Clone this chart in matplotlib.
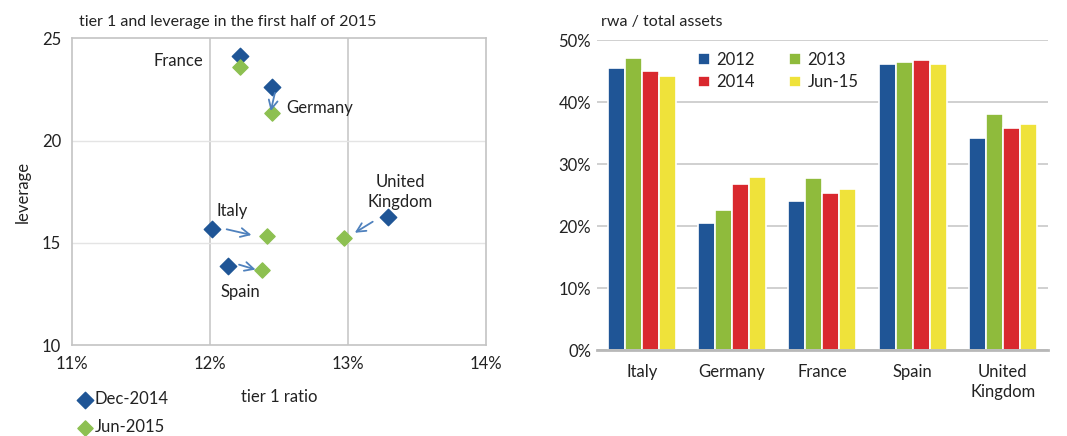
import matplotlib.pyplot as plt
from matplotlib.ticker import FuncFormatter
import numpy as np

plt.rcParams["font.family"] = ["Lato", "DejaVu Sans"]

# ---------------------------------------------------------
# Left panel: tier 1 ratio (%) vs leverage
# ---------------------------------------------------------
countries_sc = ["France", "Germany", "Italy", "Spain", "United\nKingdom"]
tier1_dec14 = [12.22, 12.45, 12.01, 12.13, 13.29]
lev_dec14 = [24.13, 22.62, 15.69, 13.87, 16.28]
tier1_jun15 = [12.22, 12.45, 12.41, 12.38, 12.97]
lev_jun15 = [23.61, 21.36, 15.35, 13.67, 15.22]

# ---------------------------------------------------------
# Right panel: rwa / total assets (%)
# ---------------------------------------------------------
countries_bar = ["Italy", "Germany", "France", "Spain", "United\nKingdom"]
periods = ["2012", "2013", "2014", "Jun-15"]
rwa = {
    "2012": [45.6, 20.5, 24.0, 46.1, 34.2],
    "2013": [47.1, 22.7, 27.85, 46.5, 38.1],
    "2014": [45.05, 26.9, 25.3, 46.9, 35.9],
    "Jun-15": [44.2, 27.95, 26.0, 46.1, 36.5],
}

BLUE = "#1f5596"
GREEN = "#8dc051"
bar_colors = ["#1f5596", "#8fbb3c", "#d9282e", "#efe23a"]
ARROW = "#4f81bd"
TXT = "#222222"

fig = plt.figure(figsize=(10.67, 4.36), dpi=100)

ax1 = fig.add_axes([0.0678, 0.2087, 0.3874, 0.7034])
ax1.set_xlim(11, 14)
ax1.set_ylim(10, 25)
ax1.set_xticks([11, 12, 13, 14])
ax1.set_yticks([10, 15, 20, 25])
ax1.xaxis.set_major_formatter(FuncFormatter(lambda v, p: f"{v:.0f}%"))
for v in [12, 13]:
    ax1.axvline(v, color="#c8c8c8", lw=1.2, zorder=0)
for v in [15, 20]:
    ax1.axhline(v, color="#e4e4e4", lw=1.0, zorder=0)
for s in ax1.spines.values():
    s.set_color("#c4c4c4")
    s.set_linewidth(1.2)
ax1.tick_params(length=0, labelsize=12, colors=TXT, pad=8)

ax1.scatter(tier1_dec14, lev_dec14, marker="D", s=70, color=BLUE, zorder=3, label="Dec-2014")
ax1.scatter(tier1_jun15, lev_jun15, marker="D", s=60, color=GREEN, zorder=3, label="Jun-2015")

# arrows from Dec-2014 towards Jun-2015
arrows = [
    ((12.47, 22.33), (12.44, 21.44)),
    ((12.12, 15.66), (12.30, 15.38)),
    ((12.21, 13.93), (12.33, 13.69)),
    ((13.18, 16.03), (13.05, 15.49)),
]
for start, end in arrows:
    ax1.annotate("", xy=end, xytext=start,
                 arrowprops=dict(arrowstyle="->", color=ARROW, lw=1.3,
                                 mutation_scale=16, shrinkA=0, shrinkB=0))

lbl = dict(fontsize=12, color=TXT)
ax1.text(11.95, 23.9, "France", ha="right", va="center", **lbl)
ax1.text(12.55, 21.6, "Germany", ha="left", va="center", **lbl)
ax1.text(12.16, 16.55, "Italy", ha="center", va="center", **lbl)
ax1.text(12.22, 12.6, "Spain", ha="center", va="center", **lbl)
ax1.text(13.38, 17.5, "United\nKingdom", ha="center", va="center", linespacing=1.3, **lbl)

ax1.set_xlabel("tier 1 ratio", fontsize=12, color=TXT, labelpad=12)
ax1.set_ylabel("leverage", fontsize=12, color=TXT, labelpad=8)
ax1.set_title("tier 1 and leverage in the first half of 2015", fontsize=11.5,
              color=TXT, loc="left", x=0.017, pad=9)
ax1.legend(loc="upper left", bbox_to_anchor=(-0.006, -0.128), frameon=False,
           fontsize=12, handletextpad=0.1, labelspacing=0.75, handlelength=1.0,
           borderaxespad=0, labelcolor=TXT)

ax2 = fig.add_axes([0.5592, 0.1966, 0.423, 0.711])
x = np.arange(len(countries_bar))
slot = 0.188
handles = {}
for i, per in enumerate(periods):
    handles[per] = ax2.bar(x + (i - 1.5) * slot, rwa[per], width=slot,
                           color=bar_colors[i], edgecolor="white",
                           linewidth=1.2, label=per, zorder=2)
ax2.set_xlim(-0.5, len(countries_bar) - 0.5)
ax2.set_ylim(0, 50)
ax2.set_yticks(np.arange(0, 51, 10))
ax2.yaxis.set_major_formatter(FuncFormatter(lambda v, p: f"{v:.0f}%"))
ax2.yaxis.grid(True, color="#c8c8c8", lw=1.2, zorder=0)
ax2.set_axisbelow(True)
for s in ["left", "right", "top"]:
    ax2.spines[s].set_visible(False)
ax2.spines["bottom"].set_color("#b8b8b8")
ax2.spines["bottom"].set_linewidth(2)
ax2.set_xticks(x)
ax2.set_xticklabels(countries_bar, linespacing=1.3)
ax2.tick_params(length=0, labelsize=12, colors=TXT)
ax2.tick_params(axis="x", pad=10)
ax2.tick_params(axis="y", pad=4)
ax2.set_title("rwa / total assets", fontsize=11.5, color=TXT, loc="left",
              x=0.01, pad=10)
# legend rows: 2012 / 2013, then 2014 / Jun-15
order = ["2012", "2014", "2013", "Jun-15"]
ax2.legend([handles[k] for k in order], order, loc="upper left",
           bbox_to_anchor=(0.21, 0.985), ncol=2, frameon=False,
           fontsize=12, handlelength=0.7, handleheight=0.7, handletextpad=0.4,
           columnspacing=2.05, labelspacing=0.4, borderaxespad=0, labelcolor=TXT)

fig.savefig("out.png", dpi=100)
